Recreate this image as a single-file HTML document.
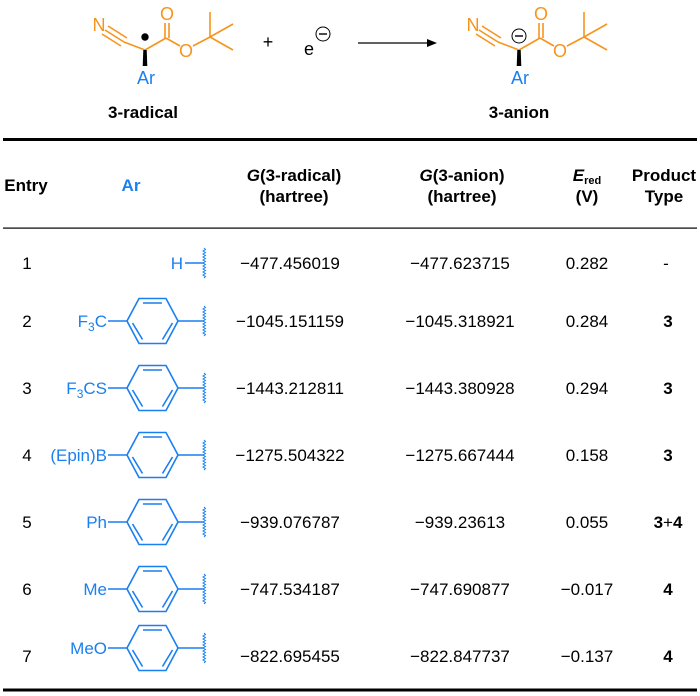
<!DOCTYPE html>
<html><head><meta charset="utf-8"><style>
html,body{margin:0;padding:0;background:#fff;}
svg{display:block;font-family:"Liberation Sans",Arial,sans-serif;}
</style></head><body>
<svg width="700" height="696" viewBox="0 0 700 696" xmlns="http://www.w3.org/2000/svg">
<defs>
<g id="hex" fill="none" stroke="#1a7ff0" stroke-width="1.6">
 <polygon points="-25.5,0 -13.5,-22.5 13.5,-22.5 25.5,0 13.5,22.5 -13.5,22.5"/>
 <line x1="-9.5" y1="-18" x2="9.5" y2="-18"/>
 <line x1="-20" y1="2" x2="-10" y2="18.5"/>
 <line x1="20" y1="2" x2="10" y2="18.5"/>
</g>
<polyline id="wavy" fill="none" stroke="#1a7ff0" stroke-width="1" points="0,-15 1.5,-13.5 -1,-12 1.5,-10.5 -1,-9 1.5,-7.5 -1,-6 1.5,-4.5 -1,-3 1.5,-1.5 -1,0 1.5,1.5 -1,3 1.5,4.5 -1,6 1.5,7.5 -1,9 1.5,10.5 -1,12 1.5,13.5 0,15"/>
<g id="mol" stroke="#f7941d" stroke-width="1.6" fill="none">
 <line x1="105" y1="30" x2="124" y2="42"/>
 <line x1="108" y1="26" x2="127" y2="38"/>
 <line x1="102" y1="34" x2="121" y2="46"/>
 <line x1="124" y1="42" x2="145" y2="50"/>
 <line x1="145" y1="50" x2="166" y2="38"/>
 <line x1="165" y1="38" x2="165" y2="23"/>
 <line x1="169" y1="38" x2="169" y2="23"/>
 <line x1="166" y1="38" x2="180" y2="46"/>
 <line x1="193" y1="46" x2="210" y2="37"/>
 <line x1="210" y1="37" x2="210" y2="12"/>
 <line x1="210" y1="37" x2="233" y2="24"/>
 <line x1="210" y1="37" x2="233" y2="50"/>
</g>
</defs>

<text x="99" y="31" font-size="18" fill="#f7941d" text-anchor="middle">N</text>
<use href="#mol"/>
<text x="167" y="20" font-size="18" fill="#f7941d" text-anchor="middle">O</text>
<text x="186" y="57" font-size="18" fill="#f7941d" text-anchor="middle">O</text>
<polygon points="143.3,50 146.7,50 147.3,66 142.7,66" fill="#000"/>
<circle cx="145" cy="37" r="3.7" fill="#000"/>
<text x="146" y="84" font-size="18" fill="#1a7ff0" text-anchor="middle">Ar</text>
<text x="143" y="118" font-size="17" font-weight="bold" text-anchor="middle">3-radical</text>

<text x="268" y="48" font-size="18" text-anchor="middle">+</text>
<text x="309" y="55" font-size="18" text-anchor="middle">e</text>
<circle cx="323" cy="34" r="7" fill="none" stroke="#000" stroke-width="1"/>
<line x1="319" y1="34" x2="327" y2="34" stroke="#000" stroke-width="1.4"/>
<line x1="358" y1="43" x2="430" y2="43" stroke="#000" stroke-width="1.3"/>
<polygon points="437,43 427,39 427,47" fill="#000"/>

<g transform="translate(374,0)">
<text x="99" y="31" font-size="18" fill="#f7941d" text-anchor="middle">N</text>
<use href="#mol"/>
<text x="167" y="20" font-size="18" fill="#f7941d" text-anchor="middle">O</text>
<text x="186" y="57" font-size="18" fill="#f7941d" text-anchor="middle">O</text>
<polygon points="143.3,50 146.7,50 147.3,66 142.7,66" fill="#000"/>
<circle cx="145" cy="36" r="7" fill="none" stroke="#000" stroke-width="1"/>
<line x1="141" y1="36" x2="149" y2="36" stroke="#000" stroke-width="1.4"/>
<text x="146" y="84" font-size="18" fill="#1a7ff0" text-anchor="middle">Ar</text>
<text x="145" y="118" font-size="17" font-weight="bold" text-anchor="middle">3-anion</text>
</g>

<rect x="3" y="138" width="694" height="3" fill="#000"/>
<rect x="3" y="227.5" width="694" height="1.2" fill="#000"/>
<rect x="3" y="688.5" width="694" height="3" fill="#000"/>

<g font-size="17" font-weight="bold" text-anchor="middle">
<text x="26" y="191">Entry</text>
<text x="131" y="191" fill="#1a7ff0">Ar</text>
<text x="294" y="181"><tspan font-style="italic">G</tspan>(3-radical)</text>
<text x="294" y="202">(hartree)</text>
<text x="462" y="181"><tspan font-style="italic">G</tspan>(3-anion)</text>
<text x="462" y="202">(hartree)</text>
<text x="587" y="181"><tspan font-style="italic">E</tspan><tspan font-size="11" dy="3">red</tspan></text>
<text x="587" y="202">(V)</text>
<text x="664" y="181">Product</text>
<text x="664" y="202">Type</text>
</g>

<g font-size="17" text-anchor="middle">
<text x="27" y="269">1</text>
<text x="290" y="269">−477.456019</text>
<text x="460" y="269">−477.623715</text>
<text x="587" y="269">0.282</text>
<text x="666" y="269">-</text>

<text x="27" y="327">2</text>
<text x="290" y="327">−1045.151159</text>
<text x="460" y="327">−1045.318921</text>
<text x="587" y="327">0.284</text>
<text x="668" y="327" font-weight="bold">3</text>

<text x="27" y="394">3</text>
<text x="290" y="394">−1443.212811</text>
<text x="460" y="394">−1443.380928</text>
<text x="587" y="394">0.294</text>
<text x="668" y="394" font-weight="bold">3</text>

<text x="27" y="461">4</text>
<text x="290" y="461">−1275.504322</text>
<text x="460" y="461">−1275.667444</text>
<text x="587" y="461">0.158</text>
<text x="668" y="461" font-weight="bold">3</text>

<text x="27" y="528">5</text>
<text x="290" y="528">−939.076787</text>
<text x="460" y="528">−939.23613</text>
<text x="587" y="528">0.055</text>
<text x="668" y="528" font-weight="bold">3<tspan font-weight="normal">+</tspan>4</text>

<text x="27" y="595">6</text>
<text x="290" y="595">−747.534187</text>
<text x="460" y="595">−747.690877</text>
<text x="587" y="595">−0.017</text>
<text x="668" y="595" font-weight="bold">4</text>

<text x="27" y="662">7</text>
<text x="290" y="662">−822.695455</text>
<text x="460" y="662">−822.847737</text>
<text x="587" y="662">−0.137</text>
<text x="668" y="662" font-weight="bold">4</text>
</g>

<g font-size="17" fill="#1a7ff0" text-anchor="end" stroke-width="1.6">
<text x="183" y="269">H</text>
<line x1="185" y1="263" x2="204" y2="263" stroke="#1a7ff0"/>
<use href="#wavy" x="204" y="263"/>

<g transform="translate(0,321)">
<text x="107" y="6">F<tspan font-size="12" dy="4">3</tspan><tspan dy="-4">C</tspan></text>
<line x1="108" y1="0" x2="127" y2="0" stroke="#1a7ff0"/>
<use href="#hex" x="152.5" y="0"/>
<line x1="178" y1="0" x2="204" y2="0" stroke="#1a7ff0"/>
<use href="#wavy" x="204" y="0"/>
</g>
<g transform="translate(0,388)">
<text x="107" y="6">F<tspan font-size="12" dy="4">3</tspan><tspan dy="-4">CS</tspan></text>
<line x1="108" y1="0" x2="127" y2="0" stroke="#1a7ff0"/>
<use href="#hex" x="152.5" y="0"/>
<line x1="178" y1="0" x2="204" y2="0" stroke="#1a7ff0"/>
<use href="#wavy" x="204" y="0"/>
</g>
<g transform="translate(0,455)">
<text x="107" y="6">(Epin)B</text>
<line x1="108" y1="0" x2="127" y2="0" stroke="#1a7ff0"/>
<use href="#hex" x="152.5" y="0"/>
<line x1="178" y1="0" x2="204" y2="0" stroke="#1a7ff0"/>
<use href="#wavy" x="204" y="0"/>
</g>
<g transform="translate(0,522)">
<text x="107" y="6">Ph</text>
<line x1="108" y1="0" x2="127" y2="0" stroke="#1a7ff0"/>
<use href="#hex" x="152.5" y="0"/>
<line x1="178" y1="0" x2="204" y2="0" stroke="#1a7ff0"/>
<use href="#wavy" x="204" y="0"/>
</g>
<g transform="translate(0,589)">
<text x="107" y="6">Me</text>
<line x1="108" y1="0" x2="127" y2="0" stroke="#1a7ff0"/>
<use href="#hex" x="152.5" y="0"/>
<line x1="178" y1="0" x2="204" y2="0" stroke="#1a7ff0"/>
<use href="#wavy" x="204" y="0"/>
</g>
<g transform="translate(0,648)">
<text x="107" y="6">MeO</text>
<line x1="108" y1="0" x2="127" y2="0" stroke="#1a7ff0"/>
<use href="#hex" x="152.5" y="0"/>
<line x1="178" y1="0" x2="204" y2="0" stroke="#1a7ff0"/>
<use href="#wavy" x="204" y="0"/>
</g>
</g>
</svg>
</body></html>
